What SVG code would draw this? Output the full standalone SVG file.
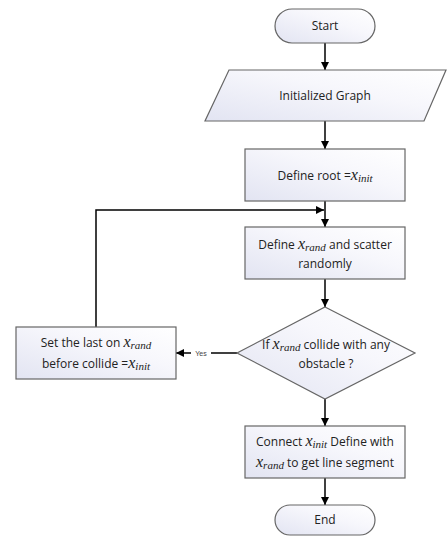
<svg xmlns="http://www.w3.org/2000/svg" width="447" height="536" viewBox="0 0 447 536">
<defs>
<linearGradient id="g" x1="0" y1="1" x2="1" y2="0">
<stop offset="0" stop-color="#e2e4f2"/>
<stop offset="0.6" stop-color="#f7f7fc"/>
<stop offset="1" stop-color="#ffffff"/>
</linearGradient>
<marker id="ah" viewBox="0 0 10 10" refX="10" refY="5" markerWidth="8" markerHeight="8" markerUnits="userSpaceOnUse" orient="auto">
<path d="M0,0 L10,5 L0,10 z" fill="#000"/>
</marker>
</defs>
<style>
.n{fill:url(#g);stroke:#666;stroke-width:1.2}
.t{font-family:"Open Sans","Liberation Sans",sans-serif;font-size:12px;fill:#222;text-anchor:middle}
.m{font-family:"Liberation Serif",serif;font-style:italic}
.c{fill:none;stroke:#000;stroke-width:1.5}
.y{font-family:"Liberation Sans",sans-serif;font-size:7px;fill:#444}
</style>
<rect width="447" height="536" fill="#fff"/>
<g id="connectors">
<line class="c" x1="325" y1="43" x2="325" y2="70" marker-end="url(#ah)"/>
<line class="c" x1="325" y1="121" x2="325" y2="149" marker-end="url(#ah)"/>
<line class="c" x1="325" y1="201" x2="325" y2="227" marker-end="url(#ah)"/>
<polyline class="c" points="96,327 96,210 324,210" marker-end="url(#ah)"/>
<line class="c" x1="325" y1="279" x2="325" y2="307" marker-end="url(#ah)"/>
<line class="c" x1="237" y1="353" x2="176" y2="353" marker-end="url(#ah)"/>
<rect x="191" y="349" width="20" height="8" fill="#fff"/>
<text class="y" x="201" y="356" text-anchor="middle">Yes</text>
<line class="c" x1="325" y1="399" x2="325" y2="426" marker-end="url(#ah)"/>
<line class="c" x1="325" y1="478" x2="325" y2="505" marker-end="url(#ah)"/>
</g>
<g id="start">
<rect class="n" x="275" y="9" width="100" height="34" rx="17"/>
<text class="t" x="325" y="30">Start</text>
</g>
<g id="graph">
<polygon class="n" points="229,70 446,70 424,121 205,121"/>
<text class="t" x="325" y="100">Initialized Graph</text>
</g>
<g id="root">
<rect class="n" x="245" y="149" width="160" height="52"/>
<text class="t" x="325" y="180">Define root =<tspan class="m" font-size="16">x</tspan><tspan class="m" font-size="11" dy="2">init</tspan></text>
</g>
<g id="rand">
<rect class="n" x="245" y="227" width="160" height="52"/>
<text class="t" x="325" y="249">Define <tspan class="m" font-size="16">x</tspan><tspan class="m" font-size="11" dy="2">rand</tspan><tspan dy="-2">  and scatter</tspan></text>
<text class="t" x="325" y="268">randomly</text>
</g>
<g id="collide">
<polygon class="n" points="325,307 415,353 325,399 237,353"/>
<text class="t" x="326" y="349">If <tspan class="m" font-size="16">x</tspan><tspan class="m" font-size="11" dy="2">rand</tspan><tspan dy="-2"> collide with any</tspan></text>
<text class="t" x="326" y="368">obstacle ?</text>
</g>
<g id="set">
<rect class="n" x="16" y="327" width="160" height="52"/>
<text class="t" x="96" y="347">Set the last on <tspan class="m" font-size="16">x</tspan><tspan class="m" font-size="11" dy="2">rand</tspan></text>
<text class="t" x="96" y="368">before collide =<tspan class="m" font-size="16">x</tspan><tspan class="m" font-size="11" dy="2">init</tspan></text>
</g>
<g id="connect">
<rect class="n" x="245" y="426" width="160" height="52"/>
<text class="t" x="325" y="446">Connect  <tspan class="m" font-size="16">x</tspan><tspan class="m" font-size="11" dy="2">init</tspan><tspan dy="-2"> Define with</tspan></text>
<text class="t" x="325" y="467"><tspan class="m" font-size="16">x</tspan><tspan class="m" font-size="11" dy="2">rand</tspan><tspan dy="-2"> to get line segment</tspan></text>
</g>
<g id="end">
<rect class="n" x="275" y="505" width="100" height="30" rx="15"/>
<text class="t" x="325" y="524">End</text>
</g>
</svg>
